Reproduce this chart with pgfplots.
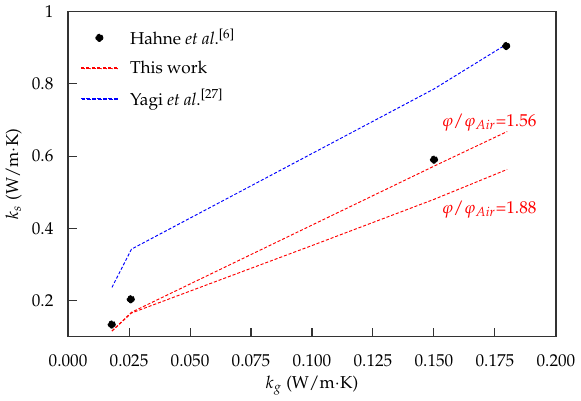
\documentclass[border=0pt]{standalone}
\usepackage[T1]{fontenc}
\usepackage{mathpazo}
\usepackage{pgfplots}
\pgfplotsset{compat=1.18}

% dashed legend sample drawn as small bars
\newcommand{\dashsample}[1]{%
  \foreach \x in {0,3.2,...,19.3}{\fill[#1] (\x pt,-0.25pt) rectangle ++(1.9pt,0.5pt);}}

\begin{document}
\begin{tikzpicture}
\begin{axis}[
  scale only axis,
  width=284pt, height=189pt,
  xmin=0, xmax=0.2, ymin=0.1, ymax=1,
  xtick={0,0.025,...,0.2},
  ytick={0.2,0.4,0.6,0.8,1},
  scaled x ticks=false,
  xticklabel style={yshift=-7pt, /pgf/number format/.cd,fixed,fixed zerofill,precision=3},
  yticklabel style={xshift=-5pt},
  xtick pos=bottom, ytick pos=left,
  tick align=inside,
  major tick length=5pt,
  axis line style={black!80, line width=0.8pt},
  tick style={black!80, line width=0.6pt},
  xlabel={$k_g$ (W/m$\cdot$K)},
  ylabel={$k_s$ (W/m$\cdot$K)},
  xlabel style={yshift=1.5pt},
  ylabel style={yshift=-1pt},
  legend style={draw=none, fill=none, at={(0.015,0.97)}, anchor=north west,
    row sep=4pt, column sep=5pt, font=\normalsize},
  legend cell align=left,
  every axis plot/.append style={line width=0.55pt, dash pattern=on 1.8pt off 1.1pt},
]
\addplot[only marks, mark=*, mark size=2.1pt, black,
  legend image code/.code={\fill[black] (10.5pt,0pt) circle (2.1pt);}]
  coordinates {(0.0179,0.133)(0.0257,0.203)(0.150,0.590)(0.1796,0.905)};
\addlegendentry{Hahne \textit{et al}.\textsuperscript{[6]}}
\addplot[red, legend image code/.code={\dashsample{red}}]
  coordinates {(0.018,0.115)(0.026,0.167)(0.150,0.572)(0.180,0.668)};
\addlegendentry{This work}
\addplot[blue, legend image code/.code={\dashsample{blue}}]
  coordinates {(0.018,0.236)(0.026,0.342)(0.150,0.786)(0.180,0.911)};
\addlegendentry{Yagi \textit{et al}.\textsuperscript{[27]}}
\addplot[red, forget plot] coordinates {(0.018,0.115)(0.026,0.165)(0.100,0.352)(0.150,0.480)(0.180,0.563)};
\node[red, anchor=east] at (axis cs:0.1945,0.693) {$\varphi/\varphi_{Air}$=1.56};
\node[red, anchor=east] at (axis cs:0.1945,0.452) {$\varphi/\varphi_{Air}$=1.88};
\end{axis}
\end{tikzpicture}
\end{document}
